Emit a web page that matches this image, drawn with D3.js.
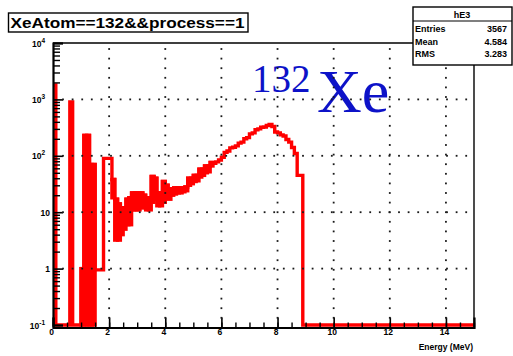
<!DOCTYPE html>
<html>
<head>
<meta charset="utf-8">
<script src="https://cdnjs.cloudflare.com/ajax/libs/d3/7.8.5/d3.min.js"></script>
<style>
  body { margin: 0; background: #fff; }
</style>
</head>
<body>
<script>
// histogram: 150 bins of 0.1 MeV from 0 to 15 MeV
var binWidth = 0.1;
var counts = [
  1800, 0, 0, 0, 0, 0, 900, 0, 0, 0,
  1.0, 230, 230, 70, 70, 0.95, 0.95, 0.95, 90, 90,
  90, 38, 17, 14, 12, 12, 17, 18, 22, 22,
  22, 22, 20, 18, 17, 43, 40, 22, 22, 35,
  30, 26, 26, 27, 27, 27, 27, 28, 40, 40,
  45, 45, 58, 58, 66, 66, 76, 74, 78, 84,
  94, 115, 122, 138, 142, 150, 168, 175, 200, 210,
  245, 255, 290, 300, 320, 325, 345, 360, 330, 265,
  255, 235, 225, 195, 175, 140, 110, 45, 45, 0,
  0, 0, 0, 0, 0, 0, 0, 0, 0, 0,
  0, 0, 0, 0, 0, 0, 0, 0, 0, 0,
  0, 0, 0, 0, 0, 0, 0, 0, 0, 0,
  0, 0, 0, 0, 0, 0, 0, 0, 0, 0,
  0, 0, 0, 0, 0, 0, 0, 0, 0, 0,
  0, 0, 0, 0, 0, 0, 0, 0, 0, 0
];
// lower envelope of the noisy low-energy bins (bins 10..56)
var bandStart = 10;
var bandLow = [
  0, 0, 0, 0, 0, 0.95, 0.95, 0.95, 90, 90,
  90, 18, 3.2, 3.2, 4, 5, 6, 6, 11, 11,
  11, 12, 12, 11, 11, 15, 17, 13, 13, 15,
  18, 17, 20, 21, 22, 22, 23, 24, 30, 32,
  35, 36, 42, 45, 50, 52, 66
];
var xMajor = [0, 2, 4, 6, 8, 10, 12, 14];
var yDecades = [-1, 0, 1, 2, 3, 4];
var statsName = "hE3";
var statsRows = [["Entries", "3567"], ["Mean", "4.584"], ["RMS", "3.283"]];

var w = 513, h = 356;
var x = d3.scaleLinear().domain([0, 15]).range([53, 474]);
var y = d3.scaleLog().domain([0.1, 1e4]).range([325, 43]);
var yc = function(v) { return y(Math.max(v, 0.1)); };

var svg = d3.select("body").append("svg").attr("width", w).attr("height", h)
  .style("display", "block")
  .style("font-family", "'Liberation Sans', Arial, sans-serif")
  .style("font-weight", "bold");
svg.append("defs").append("clipPath").attr("id", "plot")
  .append("rect").attr("x", 53).attr("y", 41).attr("width", 421).attr("height", 288);
svg.append("rect").attr("width", w).attr("height", h).attr("fill", "#fff");

// histogram
var hist = svg.append("g").attr("clip-path", "url(#plot)");
var band = [];
bandLow.forEach(function(lo, k) {
  var i = bandStart + k;
  if (lo < counts[i]) band.push({ i: i, lo: lo, hi: counts[i] });
});
hist.selectAll("rect").data(band).enter().append("rect")
  .attr("x", function(d) { return x(d.i * binWidth); })
  .attr("width", x(binWidth) - x(0))
  .attr("y", function(d) { return yc(d.hi); })
  .attr("height", function(d) { return yc(d.lo) - yc(d.hi); })
  .attr("fill", "#ff0000").attr("stroke", "#ff0000").attr("stroke-width", 3.4);

var pts = counts.map(function(c, i) { return [i * binWidth, c]; });
pts.push([counts.length * binWidth, counts[counts.length - 1]]);
var step = d3.line()
  .x(function(d) { return x(d[0]); })
  .y(function(d) { return yc(d[1]); })
  .curve(d3.curveStepAfter);
hist.append("path").attr("d", step(pts))
  .attr("fill", "none").attr("stroke", "#ff0000").attr("stroke-width", 3.4);

// frame
svg.append("path").attr("d", "M53,43H474V327.5")
  .attr("fill", "none").attr("stroke", "#000").attr("stroke-width", 1.4);

// x axis
var xMinor = d3.range(0, 15.01, 0.5);
svg.append("g").attr("transform", "translate(0,327.5)")
  .call(d3.axisBottom(x).tickValues(xMinor).tickSize(-5).tickFormat(""))
  .call(function(g) { g.select(".domain").remove(); })
  .selectAll("line").attr("stroke-width", 1.4);
svg.append("g").attr("transform", "translate(0,327.5)")
  .call(d3.axisBottom(x).tickValues(xMajor).tickSize(-10).tickFormat(""))
  .call(function(g) { g.select(".domain").attr("stroke-width", 2.2); })
  .selectAll("line").attr("stroke-width", 1.6);
svg.append("g").selectAll("text").data(xMajor).enter().append("text")
  .attr("x", function(d) { return x(d) - 1.5; }).attr("y", 335)
  .attr("text-anchor", "middle").attr("font-size", 8.5)
  .text(function(d) { return d; });
svg.append("text").attr("x", 473).attr("y", 350).attr("text-anchor", "end")
  .attr("font-size", 8.5).text("Energy (MeV)");

// y axis (log)
var yMinor = [];
yDecades.slice(0, -1).forEach(function(d) {
  for (var m = 2; m <= 9; m++) yMinor.push(m * Math.pow(10, d));
});
svg.append("g").attr("transform", "translate(53,0)")
  .call(d3.axisLeft(y).tickValues(yMinor).tickSize(-7).tickFormat(""))
  .call(function(g) { g.select(".domain").remove(); })
  .selectAll("line").attr("stroke-width", 1.4);
svg.append("g").attr("transform", "translate(53,0)")
  .call(d3.axisLeft(y).tickValues(yDecades.map(function(d) { return Math.pow(10, d); }))
    .tickSize(-10).tickFormat(""))
  .call(function(g) { g.select(".domain").attr("stroke-width", 2.2); })
  .selectAll("line").attr("stroke-width", 1.6);
var yl = svg.append("g").attr("font-size", 8.5).attr("text-anchor", "end");
yDecades.forEach(function(d) {
  var t = yl.append("text").attr("y", y(Math.pow(10, d)) + 3.5);
  if (d === 0 || d === 1) {
    t.attr("x", 50).text(d === 0 ? "1" : "10");
  } else {
    t.attr("x", 45);
    t.append("tspan").text("10");
    t.append("tspan").attr("dy", -4).attr("font-size", 6.5).text(d);
  }
});

// title box
svg.append("rect").attr("x", 8.5).attr("y", 13).attr("width", 239.5).attr("height", 19)
  .attr("fill", "#fff").attr("stroke", "#000").attr("stroke-width", 1.4);
svg.append("text").attr("x", 10.5).attr("y", 27.5).attr("font-size", 15)
  .attr("textLength", 234).attr("lengthAdjust", "spacingAndGlyphs")
  .text("XeAtom==132&&process==1");

// isotope label
var lab = svg.append("text").attr("fill", "#0d12c8")
  .style("font-family", "'Liberation Serif', 'Times New Roman', serif")
  .style("font-weight", "normal");
lab.append("tspan").attr("x", 252).attr("y", 92).attr("font-size", 39).text("132");
lab.append("tspan").attr("x", 317).attr("y", 112).attr("font-size", 62).text("Xe");

// dotted grid on the major ticks (drawn over the label, as in the original)
var dots = [];
xMajor.filter(function(d) { return d > 0; }).forEach(function(d) {
  d3.range(y(1e4) + 6, y(0.1), 9.6).forEach(function(p) { dots.push([x(d), p]); });
});
[0, 1, 2, 3].forEach(function(d) {
  var yy = y(Math.pow(10, d));
  d3.range(x(0) + 10, x(15), 9.6).forEach(function(p) { dots.push([p, yy]); });
});
svg.append("g").attr("class", "grid").selectAll("rect").data(dots).enter().append("rect")
  .attr("x", function(d) { return d[0] - 0.9; })
  .attr("y", function(d) { return d[1] - 0.9; })
  .attr("width", 1.8).attr("height", 1.8)
  .attr("fill", "#1a1a1a");

// stats box
var sb = svg.append("g");
sb.append("rect").attr("x", 413).attr("y", 7).attr("width", 99).attr("height", 58)
  .attr("fill", "#fff").attr("stroke", "#000").attr("stroke-width", 1.4);
sb.append("line").attr("x1", 413).attr("x2", 512).attr("y1", 21).attr("y2", 21)
  .attr("stroke", "#000").attr("stroke-width", 1.2);
sb.append("text").attr("x", 462).attr("y", 18).attr("text-anchor", "middle")
  .attr("font-size", 9).text(statsName);
statsRows.forEach(function(r, k) {
  var by = 32 + k * 12.5;
  sb.append("text").attr("x", 415).attr("y", by).attr("font-size", 9).text(r[0]);
  sb.append("text").attr("x", 507).attr("y", by).attr("font-size", 9)
    .attr("text-anchor", "end").text(r[1]);
});
</script>
</body>
</html>
